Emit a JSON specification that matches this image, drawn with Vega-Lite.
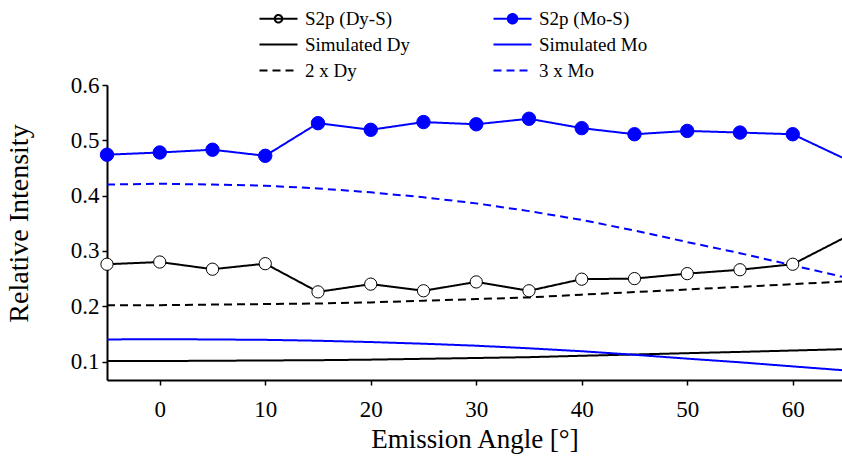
{
  "$schema": "https://vega.github.io/schema/vega-lite/v6.json",
  "width": 735,
  "height": 295,
  "autosize": {"type": "none"},
  "padding": {"left": 107, "top": 85, "right": 0, "bottom": 76},
  "background": "white",
  "config": {
    "view": {"stroke": null},
    "font": "'Liberation Serif', 'DejaVu Serif', serif",
    "axis": {
      "domainColor": "black",
      "domainWidth": 2,
      "tickColor": "black",
      "tickWidth": 1.5,
      "tickSize": 5,
      "labelFont": "'Liberation Serif', 'DejaVu Serif', serif",
      "labelFontSize": 23,
      "labelColor": "black",
      "titleFont": "'Liberation Serif', 'DejaVu Serif', serif",
      "titleFontWeight": "normal",
      "titleColor": "black",
      "grid": false
    }
  },
  "datasets": {
    "series": [
      {"series": "S2p (Dy-S)", "angle": -5, "value": 0.276},
      {"series": "S2p (Dy-S)", "angle": 0, "value": 0.280},
      {"series": "S2p (Dy-S)", "angle": 5, "value": 0.267},
      {"series": "S2p (Dy-S)", "angle": 10, "value": 0.277},
      {"series": "S2p (Dy-S)", "angle": 15, "value": 0.226},
      {"series": "S2p (Dy-S)", "angle": 20, "value": 0.240},
      {"series": "S2p (Dy-S)", "angle": 25, "value": 0.228},
      {"series": "S2p (Dy-S)", "angle": 30, "value": 0.244},
      {"series": "S2p (Dy-S)", "angle": 35, "value": 0.228},
      {"series": "S2p (Dy-S)", "angle": 40, "value": 0.249},
      {"series": "S2p (Dy-S)", "angle": 45, "value": 0.250},
      {"series": "S2p (Dy-S)", "angle": 50, "value": 0.259},
      {"series": "S2p (Dy-S)", "angle": 55, "value": 0.266},
      {"series": "S2p (Dy-S)", "angle": 60, "value": 0.276},
      {"series": "S2p (Dy-S)", "angle": 70, "value": 0.374},
      {"series": "S2p (Mo-S)", "angle": -5, "value": 0.474},
      {"series": "S2p (Mo-S)", "angle": 0, "value": 0.478},
      {"series": "S2p (Mo-S)", "angle": 5, "value": 0.483},
      {"series": "S2p (Mo-S)", "angle": 10, "value": 0.472},
      {"series": "S2p (Mo-S)", "angle": 15, "value": 0.531},
      {"series": "S2p (Mo-S)", "angle": 20, "value": 0.519},
      {"series": "S2p (Mo-S)", "angle": 25, "value": 0.533},
      {"series": "S2p (Mo-S)", "angle": 30, "value": 0.529},
      {"series": "S2p (Mo-S)", "angle": 35, "value": 0.539},
      {"series": "S2p (Mo-S)", "angle": 40, "value": 0.522},
      {"series": "S2p (Mo-S)", "angle": 45, "value": 0.511},
      {"series": "S2p (Mo-S)", "angle": 50, "value": 0.517},
      {"series": "S2p (Mo-S)", "angle": 55, "value": 0.514},
      {"series": "S2p (Mo-S)", "angle": 60, "value": 0.511},
      {"series": "S2p (Mo-S)", "angle": 70, "value": 0.421},
      {"series": "Simulated Dy", "angle": -5, "value": 0.101},
      {"series": "Simulated Dy", "angle": 0, "value": 0.101},
      {"series": "Simulated Dy", "angle": 5, "value": 0.1015},
      {"series": "Simulated Dy", "angle": 10, "value": 0.102},
      {"series": "Simulated Dy", "angle": 15, "value": 0.1025},
      {"series": "Simulated Dy", "angle": 20, "value": 0.1035},
      {"series": "Simulated Dy", "angle": 25, "value": 0.105},
      {"series": "Simulated Dy", "angle": 30, "value": 0.1065},
      {"series": "Simulated Dy", "angle": 35, "value": 0.108},
      {"series": "Simulated Dy", "angle": 40, "value": 0.1105},
      {"series": "Simulated Dy", "angle": 45, "value": 0.1128},
      {"series": "Simulated Dy", "angle": 50, "value": 0.1152},
      {"series": "Simulated Dy", "angle": 55, "value": 0.1175},
      {"series": "Simulated Dy", "angle": 60, "value": 0.1200},
      {"series": "Simulated Dy", "angle": 65, "value": 0.1225},
      {"series": "Simulated Mo", "angle": -5, "value": 0.1400},
      {"series": "Simulated Mo", "angle": 0, "value": 0.1405},
      {"series": "Simulated Mo", "angle": 5, "value": 0.1400},
      {"series": "Simulated Mo", "angle": 10, "value": 0.1393},
      {"series": "Simulated Mo", "angle": 15, "value": 0.1377},
      {"series": "Simulated Mo", "angle": 20, "value": 0.1353},
      {"series": "Simulated Mo", "angle": 25, "value": 0.1323},
      {"series": "Simulated Mo", "angle": 30, "value": 0.1287},
      {"series": "Simulated Mo", "angle": 35, "value": 0.1240},
      {"series": "Simulated Mo", "angle": 40, "value": 0.1187},
      {"series": "Simulated Mo", "angle": 45, "value": 0.1123},
      {"series": "Simulated Mo", "angle": 50, "value": 0.1053},
      {"series": "Simulated Mo", "angle": 55, "value": 0.0987},
      {"series": "Simulated Mo", "angle": 60, "value": 0.0913},
      {"series": "Simulated Mo", "angle": 65, "value": 0.0840},
      {"series": "2 x Dy", "angle": -5, "value": 0.202},
      {"series": "2 x Dy", "angle": 0, "value": 0.202},
      {"series": "2 x Dy", "angle": 5, "value": 0.203},
      {"series": "2 x Dy", "angle": 10, "value": 0.204},
      {"series": "2 x Dy", "angle": 15, "value": 0.205},
      {"series": "2 x Dy", "angle": 20, "value": 0.207},
      {"series": "2 x Dy", "angle": 25, "value": 0.210},
      {"series": "2 x Dy", "angle": 30, "value": 0.213},
      {"series": "2 x Dy", "angle": 35, "value": 0.216},
      {"series": "2 x Dy", "angle": 40, "value": 0.221},
      {"series": "2 x Dy", "angle": 45, "value": 0.2256},
      {"series": "2 x Dy", "angle": 50, "value": 0.2304},
      {"series": "2 x Dy", "angle": 55, "value": 0.235},
      {"series": "2 x Dy", "angle": 60, "value": 0.240},
      {"series": "2 x Dy", "angle": 65, "value": 0.245},
      {"series": "3 x Mo", "angle": -5, "value": 0.420},
      {"series": "3 x Mo", "angle": 0, "value": 0.4215},
      {"series": "3 x Mo", "angle": 5, "value": 0.420},
      {"series": "3 x Mo", "angle": 10, "value": 0.418},
      {"series": "3 x Mo", "angle": 15, "value": 0.413},
      {"series": "3 x Mo", "angle": 20, "value": 0.406},
      {"series": "3 x Mo", "angle": 25, "value": 0.397},
      {"series": "3 x Mo", "angle": 30, "value": 0.386},
      {"series": "3 x Mo", "angle": 35, "value": 0.372},
      {"series": "3 x Mo", "angle": 40, "value": 0.356},
      {"series": "3 x Mo", "angle": 45, "value": 0.337},
      {"series": "3 x Mo", "angle": 50, "value": 0.316},
      {"series": "3 x Mo", "angle": 55, "value": 0.296},
      {"series": "3 x Mo", "angle": 60, "value": 0.274},
      {"series": "3 x Mo", "angle": 65, "value": 0.252}
    ]
  },
  "data": {"name": "series"},
  "encoding": {
    "x": {
      "field": "angle",
      "type": "quantitative",
      "scale": {"domain": [-5, 64.67], "nice": false, "zero": false},
      "axis": {
        "values": [0, 10, 20, 30, 40, 50, 60],
        "title": "Emission Angle [°]",
        "titleFontSize": 27,
        "titlePadding": 5,
        "labelPadding": 13,
        "encode": {"ticks": {"update": {"y": {"value": -5}}}}
      }
    },
    "y": {
      "field": "value",
      "type": "quantitative",
      "scale": {"domain": [0.0667, 0.6], "nice": false, "zero": false},
      "axis": {
        "values": [0.1, 0.2, 0.3, 0.4, 0.5, 0.6],
        "format": ".1f",
        "title": "Relative Intensity",
        "titleFontSize": 28,
        "titlePadding": 37,
        "titleY": 138,
        "labelPadding": 3,
        "encode": {"ticks": {"update": {"x": {"value": 6}}}}
      }
    }
  },
  "layer": [
    {
      "mark": {"type": "line", "strokeWidth": 2, "clip": true},
      "encoding": {
        "color": {
          "field": "series",
          "type": "nominal",
          "scale": {
            "domain": ["S2p (Dy-S)", "S2p (Mo-S)", "Simulated Dy", "Simulated Mo", "2 x Dy", "3 x Mo"],
            "range": ["#000000", "#0000ff", "#000000", "#0000ff", "#000000", "#0000ff"]
          },
          "legend": {
            "title": null,
            "orient": "none",
            "legendX": 162,
            "legendY": -76,
            "direction": "horizontal",
            "columns": 2,
            "columnPadding": 78,
            "rowPadding": 6,
            "padding": 0,
            "symbolSize": 100,
            "symbolStrokeWidth": 2,
            "labelOffset": 17,
            "labelFont": "'Liberation Serif', 'DejaVu Serif', serif",
            "labelFontSize": 19,
            "labelColor": "black",
            "labelLimit": 300,
            "encode": {
              "symbols": {
                "update": {
                  "shape": {"signal": "datum.value === 'S2p (Dy-S)' ? 'M-3.8,0L3.8,0M-0.75,0A0.75,0.75 0 1,0 0.75,0A0.75,0.75 0 1,0 -0.75,0' : datum.value === 'S2p (Mo-S)' ? 'M-3.8,0L3.8,0M-0.95,0A0.95,0.95 0 1,0 0.95,0A0.95,0.95 0 1,0 -0.95,0' : 'M-3.8,0L3.8,0'"},
                  "fill": {"signal": "datum.value === 'S2p (Mo-S)' ? '#0000ff' : 'transparent'"},
                  "strokeDash": {"signal": "datum.value === '2 x Dy' || datum.value === '3 x Mo' ? [9, 5] : [1, 0]"},
                  "strokeWidth": {"value": 2},
                  "opacity": {"value": 1}
                }
              }
            }
          }
        },
        "strokeDash": {
          "field": "series",
          "type": "nominal",
          "scale": {
            "domain": ["S2p (Dy-S)", "S2p (Mo-S)", "Simulated Dy", "Simulated Mo", "2 x Dy", "3 x Mo"],
            "range": [[1, 0], [1, 0], [1, 0], [1, 0], [8, 5], [8, 5]]
          },
          "legend": null
        }
      }
    },
    {
      "transform": [
        {"filter": "datum.series === 'S2p (Dy-S)' && datum.angle <= 60"}
      ],
      "mark": {"type": "point", "shape": "circle", "filled": true, "fill": "white", "stroke": "black", "strokeWidth": 1, "size": 150, "opacity": 1}
    },
    {
      "transform": [
        {"filter": "datum.series === 'S2p (Mo-S)' && datum.angle <= 60"}
      ],
      "mark": {"type": "point", "shape": "circle", "filled": true, "fill": "#0000ff", "stroke": "#0000ff", "strokeWidth": 1, "size": 180, "opacity": 1}
    }
  ]
}
